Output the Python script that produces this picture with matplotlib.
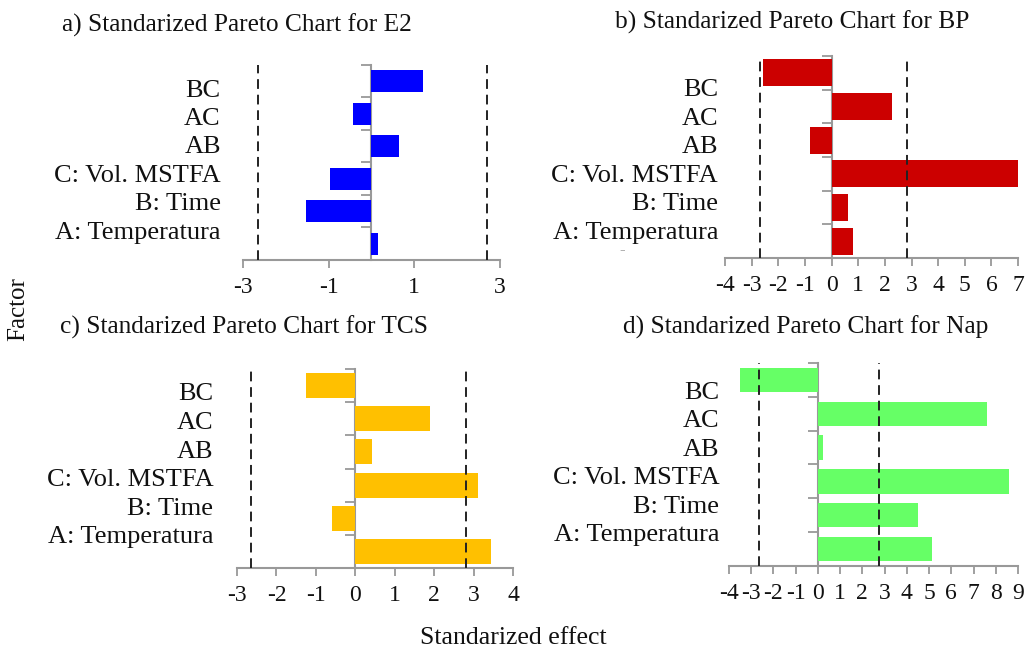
import numpy as np
import matplotlib
matplotlib.use("Agg")
import matplotlib.pyplot as plt

plt.rcParams['font.family'] = ['Liberation Serif', 'DejaVu Serif']
plt.rcParams['axes.unicode_minus'] = False

factors = ['BC', 'AC', 'AB', 'C: Vol. MSTFA', 'B: Time', 'A: Temperatura']

titles = ['a) Standarized Pareto Chart for E2',
          'b) Standarized Pareto Chart for BP',
          'c) Standarized Pareto Chart for TCS',
          'd) Standarized Pareto Chart for Nap']

e2 = [1.2, -0.42, 0.64, -0.96, -1.53, 0.16]
bp = [-2.56, 2.26, -0.83, 7.0, 0.6, 0.8]
tcs = [-1.24, 1.9, 0.43, 3.12, -0.58, 3.43]
nap = [-3.5, 7.6, 0.22, 8.6, 4.5, 5.15]

# critical values (dashed lines)
crit_lo = [-2.65, -2.7, -2.64, -2.65]
crit_hi = [2.69, 2.82, 2.82, 2.74]

xticks = [[-3, -1, 1, 3], list(range(-4, 8)), list(range(-3, 5)), list(range(-4, 10))]

colors = ['#0000FF', '#CC0000', '#FFC000', '#66FF66']
bar_h = [0.68, 0.8, 0.75, 0.72]
boxes = [[0.2366, 0.5994, 0.2502, 0.3005],
         [0.7060, 0.6025, 0.2853, 0.3112],
         [0.2308, 0.1248, 0.2687, 0.3066],
         [0.7098, 0.1279, 0.2814, 0.3128]]
label_span = [(0.71, 5.08), (0.95, 5.18), (0.69, 5.0), (0.8, 5.02)]
title_pos = [(0.0604, 0.9615), (0.5988, 0.966), (0.0584, 0.496), (0.6066, 0.496)]
pads = [16, 5, 17, 7]


def main():
    fig = plt.figure(figsize=(10.27, 6.49), dpi=100)
    series = [e2, bp, tcs, nap]
    n = len(factors)
    pos = np.arange(n) + 0.5

    for k in range(4):
        ax = fig.add_axes(boxes[k])
        ax.barh(pos, series[k], height=bar_h[k], color=colors[k], zorder=2)
        ax.set_ylim(n, 0)
        ax.set_xlim(xticks[k][0], xticks[k][-1])
        ax.axvline(crit_lo[k], color='#222222', ls=(0, (5, 3)), lw=1.4, zorder=3)
        ax.axvline(crit_hi[k], color='#222222', ls=(0, (5, 3)), lw=1.4, zorder=3)

        for s in ['top', 'right', 'left']:
            ax.spines[s].set_visible(False)
        ax.spines['bottom'].set_color('#999999')
        ax.spines['bottom'].set_linewidth(1.5)
        ax.set_xticks(xticks[k])
        ax.tick_params(axis='x', colors='#999999', length=6, width=1.3,
                       labelsize=17, labelcolor='#111111', pad=6)
        ax.set_yticks(np.linspace(label_span[k][0], label_span[k][1], n))
        ax.set_yticklabels(factors)
        ax.tick_params(axis='y', length=0, labelsize=19, pad=pads[k],
                       labelcolor='#111111')

        zero = ax.secondary_yaxis(0, transform=ax.transData)
        zero.set_yticks(np.arange(n))
        zero.tick_params(axis='y', labelleft=False, length=7, width=1.3,
                         color='#999999')
        zero.spines['left'].set_color('#999999')
        zero.spines['left'].set_linewidth(1.5)

        fig.text(title_pos[k][0], title_pos[k][1], titles[k], fontsize=18.3,
                 ha='left', va='center', color='#111111')

    # stray dash left of panel b in the original
    fig.text(0.606, 0.615, '-', fontsize=12, color='#999999',
             ha='center', va='center')

    fig.text(0.5, 0.017, 'Standarized effect', fontsize=18.5,
             ha='center', va='center', color='#111111')
    fig.text(0.0175, 0.524, 'Factor', fontsize=18, rotation=90,
             ha='center', va='center', color='#111111')

    fig.savefig('out.png', dpi=100)


if __name__ == "__main__":
    main()
